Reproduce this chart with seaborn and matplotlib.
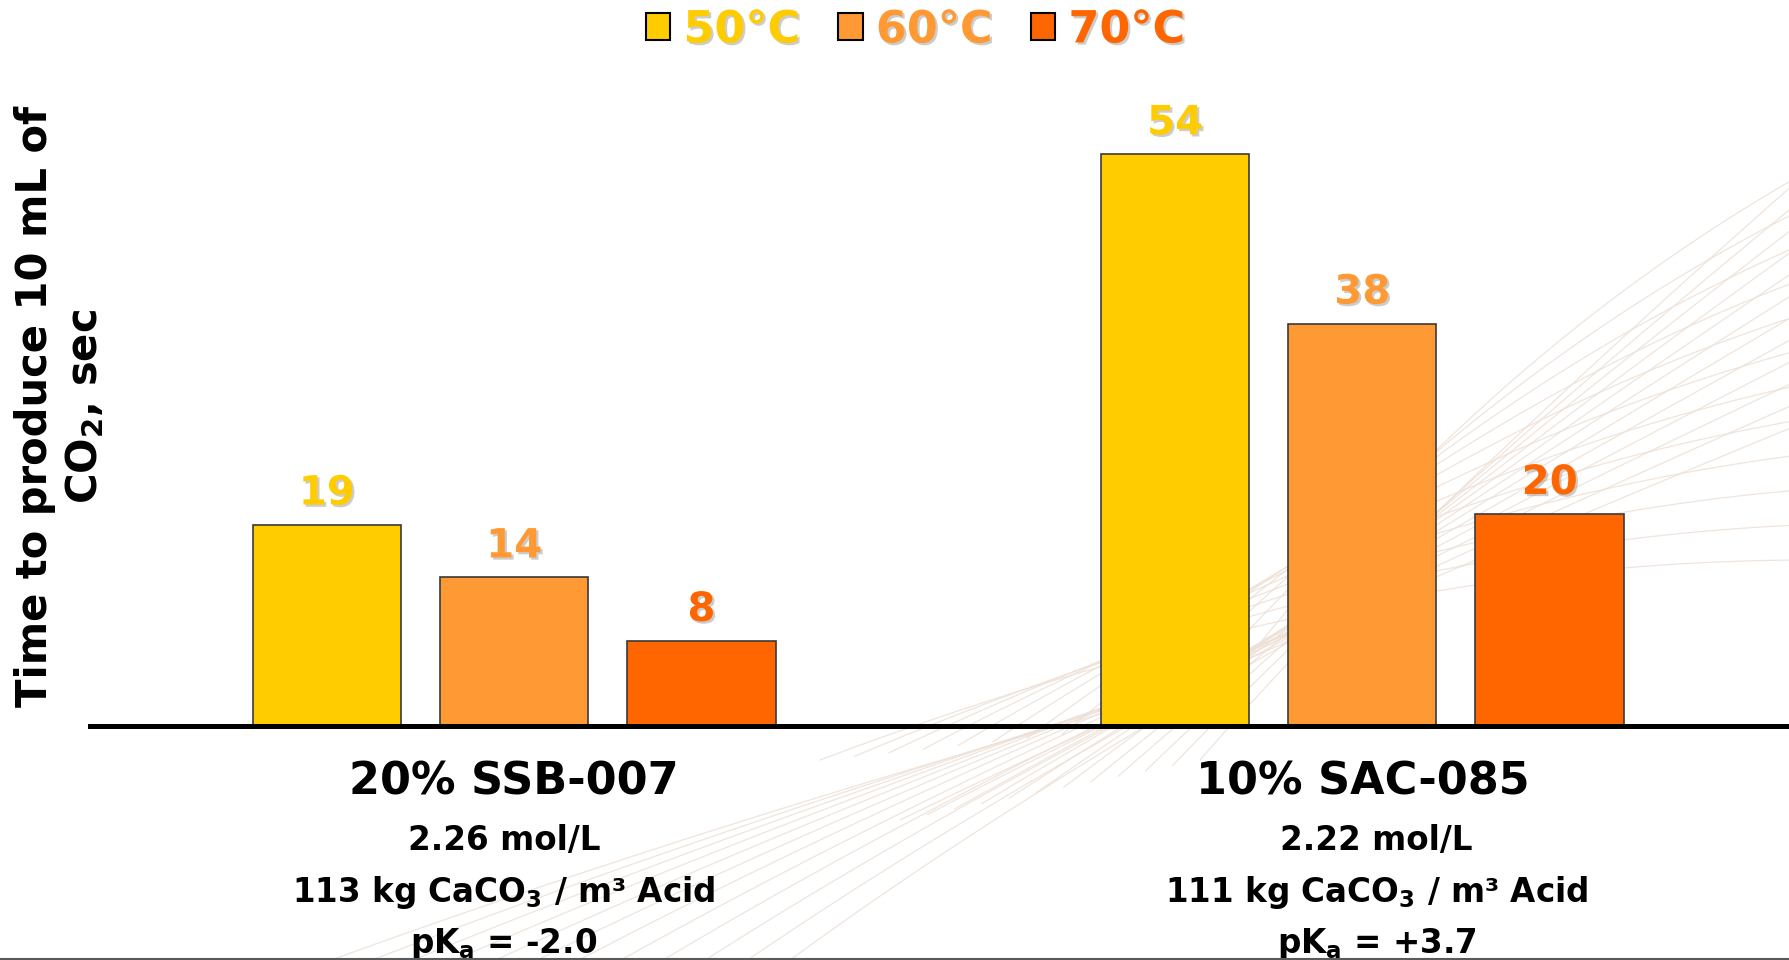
import numpy as np
import pandas as pd
import matplotlib
matplotlib.use("Agg")
import matplotlib.pyplot as plt
import matplotlib.patheffects as pe
import matplotlib.transforms as mtransforms
from matplotlib.patches import Patch
from matplotlib.lines import Line2D
import seaborn as sns

# ---- data -------------------------------------------------------------
categories = ["20% SSB-007", "10% SAC-085"]
temperatures = ["50°C", "60°C", "70°C"]
times_50 = [19, 54]
times_60 = [14, 38]
times_70 = [8, 20]
concentration = ["2.26 mol/L", "2.22 mol/L"]
capacity = [r"113 kg CaCO$_\mathbf{3}$ / m³ Acid", r"111 kg CaCO$_\mathbf{3}$ / m³ Acid"]
pka = [r"pK$_\mathbf{a}$ = -2.0", r"pK$_\mathbf{a}$ = +3.7"]
palette = ["#FFCC00", "#FF9933", "#FF6600"]
ylabel = "Time to produce 10 mL of\nCO$_\\mathbf{2}$, sec"

df = pd.DataFrame({
    "acid": categories * 3,
    "temp": np.repeat(temperatures, len(categories)),
    "time": times_50 + times_60 + times_70,
})

# ---- style --------------------------------------------------------------
sns.set_theme(style="white")
plt.rcParams["font.family"] = ["DejaVu Sans"]
plt.rcParams["mathtext.fontset"] = "dejavusans"
plt.rcParams["mathtext.default"] = "bf"

shadow = [pe.withSimplePatchShadow(offset=(1.6, -1.6), shadow_rgbFace="#808080", alpha=0.4)]

W, H = 1790, 960
fig = plt.figure(figsize=(W / 100, H / 100), dpi=100)
fig.patch.set_facecolor("white")

# faint decorative mesh in the background
bg = fig.add_axes([0, 0, 1, 1], zorder=0)
bg.set_xlim(0, W)
bg.set_ylim(H, 0)
bg.axis("off")
t = np.linspace(0, 1, 300)[:, None]


def bezier(p0, p1, p2):
    p0, p1, p2 = map(np.asarray, (p0, p1, p2))
    return (1 - t) ** 2 * p0 + 2 * (1 - t) * t * p1 + t ** 2 * p2


mesh_kw = dict(color="#EDE0D6", lw=0.9, alpha=0.85)
for s in np.linspace(0, 1, 12):
    # sweeping strands rising towards the right edge
    c = bezier((820 + 380 * s, 760 - 40 * s), (1350 + 120 * s, 560 - 200 * s), (1810, 560 - 390 * s))
    bg.plot(c[:, 0], c[:, 1], **mesh_kw)
    c = bezier((900 + 300 * s, 820 - 60 * s), (1250 + 150 * s, 650 - 120 * s), (1810, 420 - 250 * s))
    bg.plot(c[:, 0], c[:, 1], **mesh_kw)
    # strands crossing the lower left area
    c = bezier((250 + 500 * s, 990), (650 + 350 * s, 840 - 40 * s), (1150 + 250 * s, 700 - 120 * s))
    bg.plot(c[:, 0], c[:, 1], **mesh_kw)

# ---- bars ---------------------------------------------------------------
ax = fig.add_axes([0.0503, 0.2442, 0.9477, 0.6612], zorder=1)
ax.patch.set_alpha(0)

sns.barplot(
    data=df, x="acid", y="time", hue="temp",
    order=categories, hue_order=temperatures, palette=palette,
    width=0.6625, gap=0.208, saturation=1,
    edgecolor="#3a3a3a", linewidth=1.2,
    errorbar=None, legend=False, ax=ax,
)

ax.set_xlim(-0.5, 1.5)
ax.set_ylim(0, 60)
ax.set_xlabel("")
ax.set_ylabel("")
ax.set_xticks(range(len(categories)))
ax.set_xticklabels([])
ax.set_yticks([])
ax.tick_params(length=0)
sns.despine(ax=ax, left=True)
ax.spines["bottom"].set_color("black")
ax.spines["bottom"].set_linewidth(3.6)

# value labels above bars
for container, color in zip(ax.containers, palette):
    for bar, value in zip(container, container.datavalues):
        ax.annotate(
            f"{value:g}",
            (bar.get_x() + bar.get_width() / 2, bar.get_height()),
            xytext=(0, 14.4), textcoords="offset points",
            ha="center", va="baseline", fontsize=29, fontweight="bold",
            color=color, path_effects=shadow,
        )

# category captions under the axis
blend = mtransforms.blended_transform_factory(ax.transData, ax.transAxes)
sub_shift = [-0.012, 0.017]
for i, name in enumerate(categories):
    ax.text(i, -0.1093, name, transform=blend, ha="center", va="baseline",
            fontsize=32, fontweight="bold", color="black")
    for line, yy in zip((concentration[i], capacity[i], pka[i]), (-0.196, -0.278, -0.358)):
        ax.text(i + sub_shift[i], yy, line, transform=blend, ha="center", va="baseline",
                fontsize=23.5, fontweight="bold", color="black")

# axis title
fig.text(0.0335, 0.577, ylabel, rotation=90, ha="center", va="center",
         multialignment="center", fontsize=30, fontweight="bold", color="black")

# legend
handles = [Patch(facecolor=c, edgecolor="black", linewidth=1.5) for c in palette]
leg = fig.legend(
    handles, temperatures, loc="center", bbox_to_anchor=(0.5115, 1 - 30 / H),
    ncol=3, frameon=False, prop={"weight": "bold", "size": 32},
    handlelength=0.55, handleheight=0.55, handletextpad=0.3, columnspacing=0.85,
    labelcolor=palette, borderpad=0, borderaxespad=0,
)
for txt in leg.get_texts():
    txt.set_path_effects(shadow)

# slide edge at the bottom
fig.add_artist(Line2D([0, 1], [0.0015, 0.0015], transform=fig.transFigure,
                      color="#5a5a5a", lw=1.5))

fig.savefig("out.png", dpi=100, facecolor="white")
